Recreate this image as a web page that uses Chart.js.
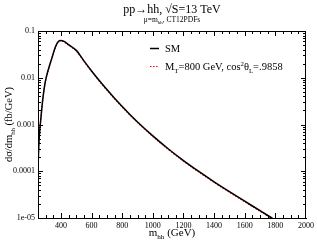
<!DOCTYPE html>
<html>
<head>
<meta charset="utf-8">
<script src="https://cdn.jsdelivr.net/npm/chart.js@4.4.0/dist/chart.umd.min.js"></script>
<style>
  html, body { margin: 0; padding: 0; background: #fff; }
  #wrap { width: 317px; height: 243px; }
</style>
</head>
<body>
<div id="wrap"><canvas id="c"></canvas></div>
<script>
// m_hh grid (GeV)
const mhh = [250, 255, 260, 270, 280, 290, 300, 320, 340, 360, 375, 390, 400, 420, 450, 500, 550, 600, 650, 700, 750, 800, 850, 900, 1000, 1100, 1200, 1300, 1400, 1500, 1600, 1700, 1800];
// SM dσ/dm_hh (fb/GeV)
const smValues = [1.1e-4, 3.5e-4, 6.5e-4, 1.5e-3, 3.2e-3, 5.8e-3, 9.0e-3, 0.016, 0.026, 0.042, 0.055, 0.062, 0.063, 0.060, 0.051, 0.0385, 0.0230, 0.0140, 0.00873, 0.00558, 0.00364, 0.00242, 0.00164, 0.001135, 5.7e-4, 3.03e-4, 1.69e-4, 9.89e-5, 5.94e-5, 3.66e-5, 2.29e-5, 1.43e-5, 9.0e-6];
// M_T = 800 GeV, cos^2 theta_L = .9858
const mtValues = [1.05e-4, 3.4e-4, 6.3e-4, 1.45e-3, 3.1e-3, 5.6e-3, 8.7e-3, 0.0155, 0.0252, 0.0408, 0.0535, 0.0605, 0.0615, 0.0585, 0.0495, 0.0374, 0.0224, 0.01362, 0.00849, 0.00543, 0.00354, 0.00235, 0.00159, 0.0011, 5.53e-4, 2.94e-4, 1.64e-4, 9.6e-5, 5.77e-5, 3.55e-5, 2.22e-5, 1.39e-5, 8.75e-6];

const xTicks = [400, 600, 800, 1000, 1200, 1400, 1600, 1800, 2000];
const yTicks = [1e-5, 1e-4, 1e-3, 1e-2, 1e-1];
const yTickLabels = ['1e-05', '0.0001', '0.001', '0.01', '0.1'];

const SERIF = '"Liberation Serif", "DejaVu Serif", serif';

// draw text made of pieces, some sub/superscripted
function richWidth(ctx, parts, size) {
  let w = 0;
  parts.forEach(p => {
    const s = p.s ? size * 0.65 : size;
    ctx.font = `${s}px ${SERIF}`;
    w += ctx.measureText(p.t).width;
  });
  return w;
}
function drawRich(ctx, parts, x, y, size, align) {
  let cx = align === 'center' ? x - richWidth(ctx, parts, size) / 2 : x;
  ctx.textBaseline = 'alphabetic';
  ctx.textAlign = 'left';
  parts.forEach(p => {
    const s = p.s ? size * 0.65 : size;
    ctx.font = `${s}px ${SERIF}`;
    let dy = 0;
    if (p.s === 'sub') dy = size * 0.3;
    if (p.s === 'sup') dy = -size * 0.4;
    ctx.fillText(p.t, cx, y + dy);
    cx += ctx.measureText(p.t).width;
  });
}

const decorations = {
  id: 'decorations',
  afterDraw(chart) {
    const { ctx, chartArea: a, scales } = chart;
    const xs = scales.x, ys = scales.y;
    ctx.save();
    ctx.strokeStyle = '#000';
    ctx.lineWidth = 1;
    ctx.strokeRect(a.left + 0.5, a.top + 0.5, a.right - a.left - 1, a.bottom - a.top);

    ctx.beginPath();
    // x ticks, inside on bottom and top
    for (let v = 300; v < 2000; v += 50) {
      const px = Math.round(xs.getPixelForValue(v)) + 0.5;
      const len = v % 200 === 0 ? 5 : 3;
      ctx.moveTo(px, a.bottom); ctx.lineTo(px, a.bottom - len);
      ctx.moveTo(px, a.top); ctx.lineTo(px, a.top + len);
    }
    // y ticks, inside on left and right
    for (let d = -5; d < -1 + 0.5; d++) {
      for (let k = 1; k <= 9; k++) {
        const v = k * Math.pow(10, d);
        if (v > 0.1 + 1e-12) break;
        const py = Math.round(ys.getPixelForValue(v)) + 0.5;
        const len = k === 1 ? 5 : 3;
        ctx.moveTo(a.left, py); ctx.lineTo(a.left + len, py);
        ctx.moveTo(a.right, py); ctx.lineTo(a.right - len, py);
      }
    }
    ctx.stroke();

    ctx.fillStyle = '#000';
    const cx = (a.left + a.right) / 2;
    // title
    drawRich(ctx, [{ t: 'pp\u2192hh, \u221AS=13 TeV' }], cx, 13, 12, 'center');
    drawRich(ctx, [{ t: '\u03BC=m' }, { t: 'hh', s: 'sub' }, { t: ', CT12PDFs' }], cx, 22, 7.5, 'center');
    // x axis title
    drawRich(ctx, [{ t: 'm' }, { t: 'hh', s: 'sub' }, { t: ' (GeV)' }], cx, 236, 11, 'center');
    // y axis title
    ctx.save();
    ctx.translate(12, (a.top + a.bottom) / 2);
    ctx.rotate(-Math.PI / 2);
    drawRich(ctx, [{ t: 'd\u03C3/dm' }, { t: 'hh', s: 'sub' }, { t: ' (fb/GeV)' }], 0, 0, 10.5, 'center');
    ctx.restore();

    // legend
    ctx.lineWidth = 1.5;
    ctx.strokeStyle = '#000';
    ctx.beginPath(); ctx.moveTo(150, 48.5); ctx.lineTo(159, 48.5); ctx.stroke();
    ctx.strokeStyle = '#ff0000';
    ctx.lineWidth = 1.2;
    ctx.setLineDash([1.5, 1.5]);
    ctx.beginPath(); ctx.moveTo(150, 66.5); ctx.lineTo(159, 66.5); ctx.stroke();
    ctx.setLineDash([]);
    drawRich(ctx, [{ t: 'SM' }], 165, 52, 10.5, 'left');
    drawRich(ctx, [{ t: 'M' }, { t: 'T', s: 'sub' }, { t: '=800 GeV, cos' }, { t: '2', s: 'sup' }, { t: '\u03B8' }, { t: 'L', s: 'sub' }, { t: '=.9858' }], 165, 70, 10.5, 'left');
    ctx.restore();
  }
};

new Chart(document.getElementById('c'), {
  type: 'line',
  data: {
    datasets: [{
      label: 'SM',
      data: mhh.map((m, i) => ({ x: m, y: smValues[i] })),
      borderColor: '#000',
      borderWidth: 1.5,
      pointRadius: 0,
      cubicInterpolationMode: 'monotone',
    }, {
      label: 'MT=800 GeV',
      data: mhh.map((m, i) => ({ x: m, y: mtValues[i] })),
      borderColor: '#ff0000',
      borderWidth: 1.2,
      borderDash: [1.5, 1.5],
      pointRadius: 0,
      cubicInterpolationMode: 'monotone',
    }],
  },
  options: {
    responsive: true,
    maintainAspectRatio: false,
    animation: false,
    layout: { padding: { top: 31, right: 11, left: 0, bottom: 0 } },
    plugins: { legend: { display: false }, tooltip: { enabled: false } },
    scales: {
      x: {
        type: 'linear',
        min: 250,
        max: 2000,
        afterBuildTicks: (s) => { s.ticks = xTicks.map(v => ({ value: v })); },
        afterFit: (s) => { s.height = 25; },
        grid: { display: false, drawTicks: false },
        border: { display: true, color: '#000' },
        ticks: {
          padding: 3,
          maxRotation: 0,
          autoSkip: false,
          color: '#000',
          font: { family: SERIF, size: 8 },
          callback: (v) => String(v),
        },
      },
      y: {
        type: 'logarithmic',
        min: 1e-5,
        max: 0.1,
        afterBuildTicks: (s) => { s.ticks = yTicks.map(v => ({ value: v })); },
        afterFit: (s) => { s.width = 38; },
        grid: { display: false, drawTicks: false },
        border: { display: true, color: '#000' },
        ticks: {
          padding: 3,
          autoSkip: false,
          color: '#000',
          font: { family: SERIF, size: 8 },
          callback: (v) => yTickLabels[yTicks.findIndex(t => Math.abs(Math.log10(t) - Math.log10(v)) < 1e-6)] ?? '',
        },
      },
    },
  },
  plugins: [decorations],
});
</script>
</body>
</html>
